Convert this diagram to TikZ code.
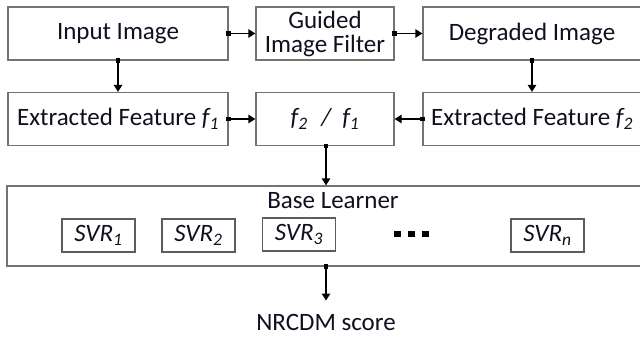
\documentclass[tikz,border=0pt]{standalone}
\usepackage{fontspec}
\setmainfont{Carlito}
\usetikzlibrary{arrows.meta}
\definecolor{boxgray}{rgb}{0.45,0.45,0.45}
\definecolor{txt}{rgb}{0.06,0.06,0.12}
\tikzset{
  box/.style={draw=boxgray, line width=1.3pt, rectangle, inner sep=0pt, align=center, text=txt},
  svrbox/.style={draw=boxgray!80!black, line width=1.2pt, rectangle, inner sep=0pt, minimum width=73pt, minimum height=33pt, text=txt},
  conn/.style={line width=1.4pt, shorten <=-2.2pt, arrows={Square[length=4.4pt,width=4.4pt]-Triangle[length=7pt,width=8.5pt]}},
  lbl/.style={inner sep=0pt, text=txt}
}
\begin{document}
\begin{tikzpicture}[x=1pt,y=-1pt,font=\fontsize{25}{24}\selectfont]
\useasboundingbox (0,0) rectangle (640,337);
% row 1
\node[box, minimum width=220pt, minimum height=53pt] (inp) at (118,33.5) {Input Image};
\node[box, minimum width=138pt, minimum height=53pt] (gif) at (325,33.5) {Guided\\Image Filter};
\node[box, minimum width=218pt, minimum height=53pt] (deg) at (532,33.5) {Degraded Image};
% row 2
\node[box, minimum width=220pt, minimum height=53pt] (ef1) at (118,119) {Extracted Feature \textit{f\textsubscript{1}}};
\node[box, minimum width=138pt, minimum height=53pt] (rat) at (325,119) {\textit{f\textsubscript{2}\hspace{0.55em}/\hspace{0.45em}f\textsubscript{1}}};
\node[box, minimum width=218pt, minimum height=53pt] (ef2) at (532,119) {Extracted Feature \textit{f\textsubscript{2}}};
% base learner
\node[box, minimum width=652pt, minimum height=80pt] (bl) at (333,226) {};
\node[lbl] (bltxt) at (333,201) {Base Learner};
\node[svrbox] (s1) at (98.5,235.5) {\textit{SVR\textsubscript{1}}};
\node[svrbox] (s2) at (198.5,235.5) {\textit{SVR\textsubscript{2}}};
\node[svrbox] (s3) at (299,234.5) {\textit{SVR\textsubscript{3}}};
\node[svrbox] (sn) at (547.5,235.5) {\textit{SVR\textsubscript{n}}};
\foreach \xx in {397.5,411.5,425.5} \fill[black] (\xx-3.5,231) rectangle (\xx+3.5,237);
% output
\node[lbl] (out) at (326,322) {NRCDM score};
\coordinate (outtop) at (326,300.5);
% connectors
\draw[conn] (inp.east) -- (gif.west);
\draw[conn] (gif.east) -- (deg.west);
\draw[conn] (inp.south) -- (ef1.north);
\draw[conn] (deg.south) -- (ef2.north);
\draw[conn] (ef1.east) -- (rat.west);
\draw[conn] (ef2.west) -- (rat.east);
\draw[conn] ([xshift=1pt]rat.south) -- ([xshift=1pt]rat.south |- bl.north);
\draw[conn] ([xshift=1pt]rat.south |- bl.south) -- (outtop);
\end{tikzpicture}
\end{document}
